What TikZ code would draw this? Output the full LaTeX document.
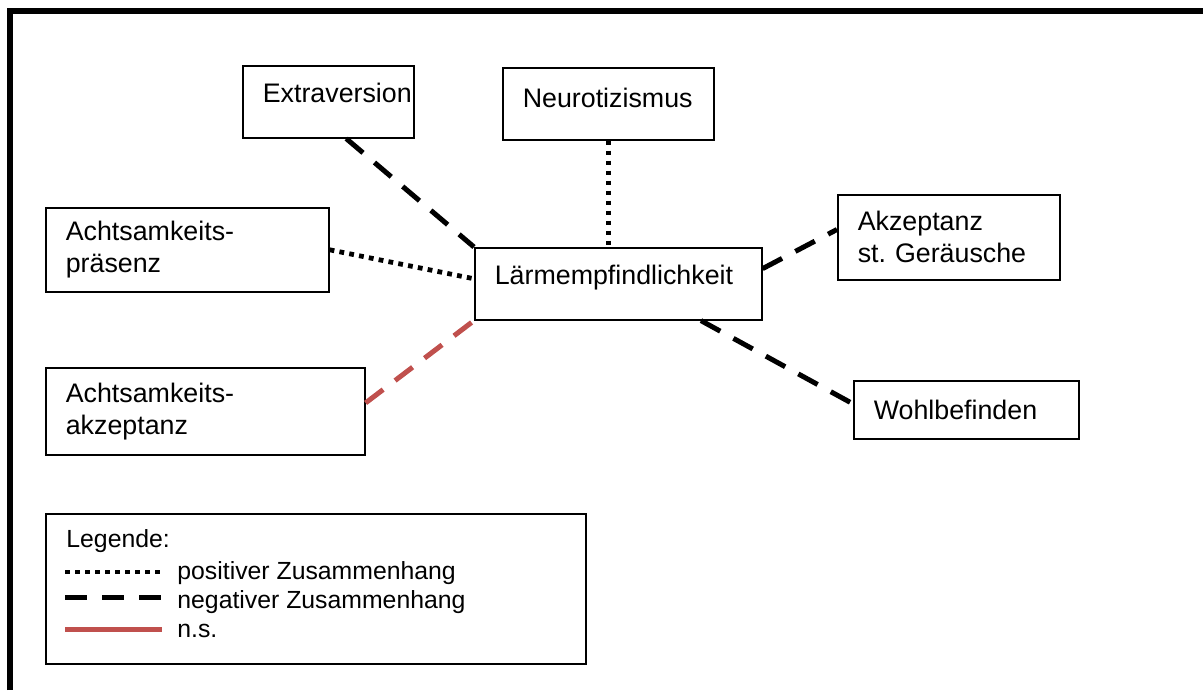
\documentclass[tikz,border=0pt]{standalone}
\usepackage{fontspec}
\setmainfont{Liberation Sans}
\usepackage{tikz}
\definecolor{nsrot}{RGB}{192,80,77}
\hyphenpenalty=10000

\begin{document}
\begin{tikzpicture}[x=0.5pt,y=-0.5pt,
            kasten/.style={draw,line width=0.8pt,anchor=north west,align=left,inner xsep=10pt,font=\fontsize{13.4}{16}\selectfont},
            legtext/.style={anchor=base west,inner sep=0pt,font=\fontsize{12.4}{15}\selectfont},
            positiv/.style={line width=2.4pt,dash pattern=on 2.4pt off 2.6pt},
            negativ/.style={line width=2.5pt,dash pattern=on 11pt off 7.5pt},
            nsig/.style={negativ,nsrot}]
            \useasboundingbox (0,0) rectangle (1203,690);
            \draw[line width=3pt] (10,690) -- (10,11.5) -- (1203,11.5);
            % Kaesten
            \node[kasten,minimum width=85.5pt,text width=65.5pt,inner ysep=0pt,text height=18.25pt,text depth=17.75pt] (extra) at (242,65) {Extraversion};
            \node[kasten,minimum width=105.5pt,text width=85.5pt,inner ysep=0pt,text height=19.75pt,text depth=16.25pt] (neuro) at (502,67) {Neurotizismus};
            \node[kasten,minimum width=141.5pt,text width=121.5pt,minimum height=42pt] (praesenz) at (45,207) {Achtsamkeits-\\präsenz};
            \node[kasten,minimum width=143.5pt,text width=123.5pt,inner ysep=0pt,text height=18.25pt,text depth=17.75pt] (laerm) at (474,247) {Lärmempfindlichkeit};
            \node[kasten,minimum width=111pt,text width=91pt,minimum height=42.5pt] (akzger) at (837,194) {Akzeptanz\\st.\ Geräusche};
            \node[kasten,minimum width=159.5pt,text width=139.5pt,minimum height=43.5pt] (akzept) at (45,367) {Achtsamkeits-\\akzeptanz};
            \node[kasten,minimum width=112.5pt,text width=92.5pt,minimum height=29pt] (wohl) at (853,380) {Wohlbefinden};
            % Zusammenhaenge
            \draw[negativ] (extra.-64) -- (laerm.north west);
            \draw[positiv] (neuro.south) -- (neuro.south |- laerm.north);
            \draw[positiv] (praesenz.east) -- (laerm.178);
            \draw[negativ] (laerm.6) -- (akzger.176);
            \draw[nsig] (akzept.3) -- (laerm.south west);
            \draw[negativ] (laerm.-24) -- (wohl.177);
            % Legende
            \node[kasten,minimum width=270pt,minimum height=75pt] (legende) at (45,513) {};
            \node[legtext] (legkopf) at (66,547) {Legende:};
            \node[legtext] (legpos) at (177,579) {positiver Zusammenhang};
            \node[legtext] (legneg) at (177,608) {negativer Zusammenhang};
            \node[legtext] (legns) at (177,637) {n.s.};
            \coordinate (pa) at (65,572);
            \coordinate (pb) at (162,572);
            \coordinate (na) at (65,597);
            \coordinate (nb) at (161,597);
            \coordinate (sa) at (65,629);
            \coordinate (sb) at (162,629);
            \draw[positiv] (pa) -- (pb);
            \draw[negativ] (na) -- (nb);
            \draw[nsig,solid] (sa) -- (sb);
        \end{tikzpicture}
\end{document}
